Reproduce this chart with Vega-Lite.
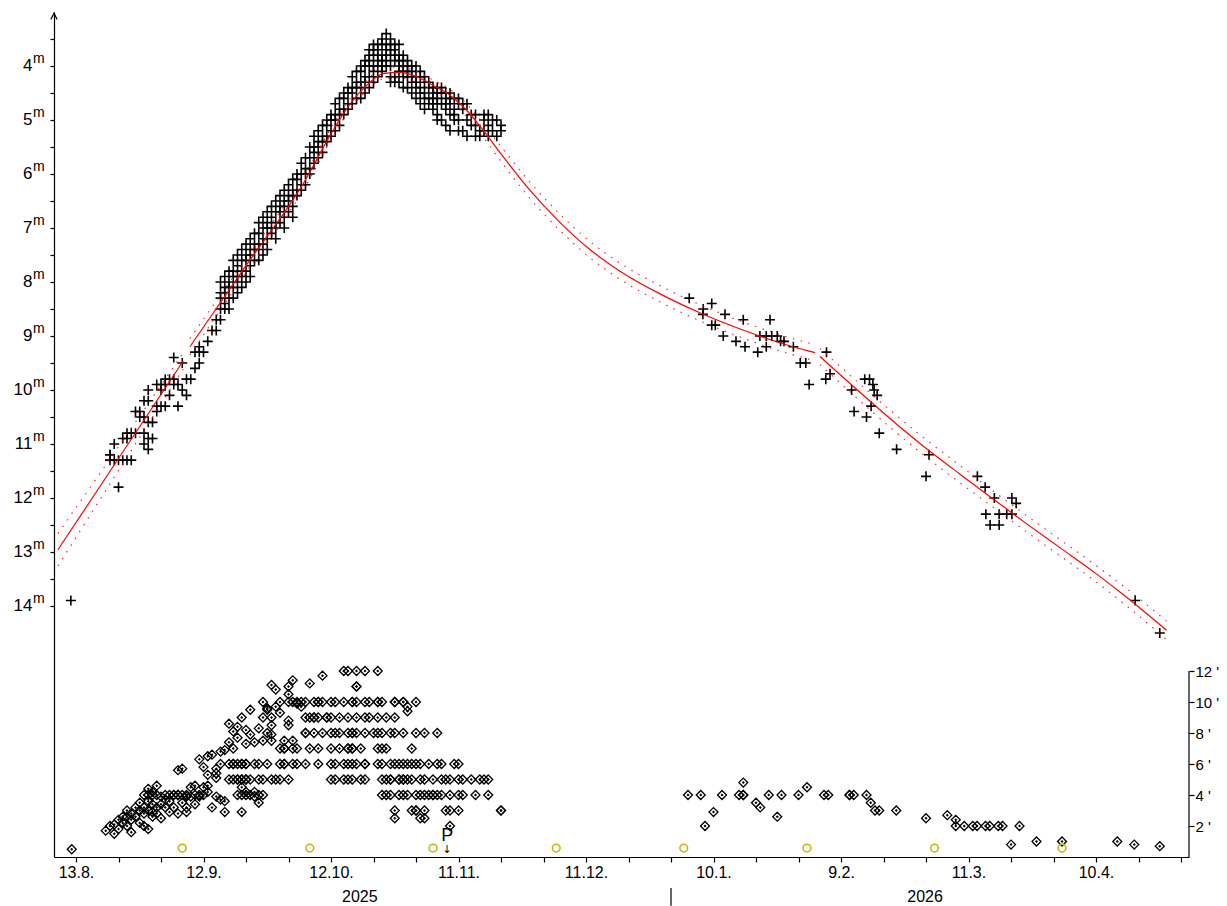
{
"$schema": "https://vega.github.io/schema/vega-lite/v6.json",
"width": 1135, "height": 845,
"autosize": {"type": "none"},
"padding": {"left": 54, "top": 12, "right": 38, "bottom": 49},
"background": "white",
"config": {"view": {"stroke": null}, "font": "Liberation Sans", "axis": {"grid": false, "domainColor": "#000", "tickColor": "#000", "labelColor": "#000"}},
"datasets": {
"mags": [
{"date":"2025-08-11T19:00:00Z","mag":13.9},
{"date":"2025-08-21","mag":11.2},{"date":"2025-08-21","mag":11.2},{"date":"2025-08-21","mag":11.3},
{"date":"2025-08-22","mag":11.3},{"date":"2025-08-22","mag":11.0},
{"date":"2025-08-23","mag":11.3},{"date":"2025-08-23","mag":11.8},
{"date":"2025-08-24","mag":10.9},{"date":"2025-08-24","mag":11.3},
{"date":"2025-08-25","mag":11.3},{"date":"2025-08-25","mag":10.9},{"date":"2025-08-25","mag":10.8},
{"date":"2025-08-26","mag":11.3},{"date":"2025-08-26","mag":10.8},
{"date":"2025-08-27","mag":10.4},{"date":"2025-08-27","mag":10.8},
{"date":"2025-08-28","mag":10.5},{"date":"2025-08-28","mag":10.4},
{"date":"2025-08-29","mag":10.8},{"date":"2025-08-29","mag":11.0},{"date":"2025-08-29","mag":10.5},{"date":"2025-08-29","mag":10.2},
{"date":"2025-08-30","mag":10.9},{"date":"2025-08-30","mag":11.1},{"date":"2025-08-30","mag":10.6},{"date":"2025-08-30","mag":10.2},{"date":"2025-08-30","mag":10.0},
{"date":"2025-08-31","mag":10.9},{"date":"2025-08-31","mag":10.6},
{"date":"2025-09-01","mag":9.9},{"date":"2025-09-01","mag":10.4},{"date":"2025-09-01","mag":10.3},
{"date":"2025-09-02","mag":10.3},{"date":"2025-09-02","mag":9.9},{"date":"2025-09-02","mag":10.0},
{"date":"2025-09-03","mag":9.9},{"date":"2025-09-03","mag":9.8},{"date":"2025-09-03","mag":10.3},
{"date":"2025-09-04","mag":9.8},{"date":"2025-09-04","mag":10.1},
{"date":"2025-09-05","mag":9.4},{"date":"2025-09-05","mag":9.8},{"date":"2025-09-05","mag":9.9},
{"date":"2025-09-06","mag":9.9},{"date":"2025-09-06","mag":10.3},
{"date":"2025-09-07","mag":10.0},{"date":"2025-09-07","mag":9.5},
{"date":"2025-09-08","mag":10.1},{"date":"2025-09-08","mag":9.8},
{"date":"2025-09-09","mag":9.8},
{"date":"2025-09-10","mag":9.3},{"date":"2025-09-10","mag":9.6},
{"date":"2025-09-11","mag":9.2},{"date":"2025-09-11","mag":9.5},{"date":"2025-09-11","mag":9.3},
{"date":"2025-09-12","mag":9.3},
{"date":"2025-09-13","mag":9.1},
{"date":"2025-09-14","mag":8.9},
{"date":"2025-09-15","mag":8.9},{"date":"2025-09-15","mag":8.7},
{"date":"2025-09-16","mag":8.0},{"date":"2025-09-16","mag":8.2},{"date":"2025-09-16","mag":8.3},{"date":"2025-09-16","mag":8.5},{"date":"2025-09-16","mag":8.7},
{"date":"2025-09-17","mag":7.9},{"date":"2025-09-17","mag":8.1},{"date":"2025-09-17","mag":8.2},{"date":"2025-09-17","mag":8.4},{"date":"2025-09-17","mag":8.5},
{"date":"2025-09-18","mag":7.8},{"date":"2025-09-18","mag":8.0},{"date":"2025-09-18","mag":8.1},{"date":"2025-09-18","mag":8.3},{"date":"2025-09-18","mag":8.5},
{"date":"2025-09-19","mag":7.6},{"date":"2025-09-19","mag":7.8},{"date":"2025-09-19","mag":7.9},{"date":"2025-09-19","mag":8.1},{"date":"2025-09-19","mag":8.3},
{"date":"2025-09-20","mag":7.5},{"date":"2025-09-20","mag":7.7},{"date":"2025-09-20","mag":7.9},{"date":"2025-09-20","mag":8.0},{"date":"2025-09-20","mag":8.2},
{"date":"2025-09-21","mag":7.4},{"date":"2025-09-21","mag":7.6},{"date":"2025-09-21","mag":7.8},{"date":"2025-09-21","mag":7.9},{"date":"2025-09-21","mag":8.1},
{"date":"2025-09-22","mag":7.3},{"date":"2025-09-22","mag":7.5},{"date":"2025-09-22","mag":7.6},{"date":"2025-09-22","mag":7.8},{"date":"2025-09-22","mag":8.0},
{"date":"2025-09-23","mag":7.2},{"date":"2025-09-23","mag":7.4},{"date":"2025-09-23","mag":7.5},{"date":"2025-09-23","mag":7.7},{"date":"2025-09-23","mag":7.9},
{"date":"2025-09-24","mag":7.1},{"date":"2025-09-24","mag":7.3},{"date":"2025-09-24","mag":7.4},{"date":"2025-09-24","mag":7.6},
{"date":"2025-09-25","mag":6.9},{"date":"2025-09-25","mag":7.1},{"date":"2025-09-25","mag":7.3},{"date":"2025-09-25","mag":7.4},{"date":"2025-09-25","mag":7.6},
{"date":"2025-09-26","mag":6.8},{"date":"2025-09-26","mag":7.0},{"date":"2025-09-26","mag":7.2},{"date":"2025-09-26","mag":7.3},{"date":"2025-09-26","mag":7.5},
{"date":"2025-09-27","mag":6.7},{"date":"2025-09-27","mag":6.9},{"date":"2025-09-27","mag":7.0},{"date":"2025-09-27","mag":7.2},{"date":"2025-09-27","mag":7.4},
{"date":"2025-09-28","mag":6.6},{"date":"2025-09-28","mag":6.8},{"date":"2025-09-28","mag":7.0},{"date":"2025-09-28","mag":7.1},
{"date":"2025-09-29","mag":6.5},{"date":"2025-09-29","mag":6.7},{"date":"2025-09-29","mag":6.9},{"date":"2025-09-29","mag":7.0},{"date":"2025-09-29","mag":7.2},
{"date":"2025-09-30","mag":6.4},{"date":"2025-09-30","mag":6.6},{"date":"2025-09-30","mag":6.7},{"date":"2025-09-30","mag":6.9},
{"date":"2025-10-01","mag":6.3},{"date":"2025-10-01","mag":6.5},{"date":"2025-10-01","mag":6.6},{"date":"2025-10-01","mag":6.8},{"date":"2025-10-01","mag":7.0},
{"date":"2025-10-02","mag":6.2},{"date":"2025-10-02","mag":6.4},{"date":"2025-10-02","mag":6.5},{"date":"2025-10-02","mag":6.7},
{"date":"2025-10-03","mag":6.1},{"date":"2025-10-03","mag":6.3},{"date":"2025-10-03","mag":6.4},{"date":"2025-10-03","mag":6.6},{"date":"2025-10-03","mag":6.8},
{"date":"2025-10-04","mag":6.0},{"date":"2025-10-04","mag":6.1},{"date":"2025-10-04","mag":6.3},{"date":"2025-10-04","mag":6.4},
{"date":"2025-10-05","mag":5.8},{"date":"2025-10-05","mag":6.0},{"date":"2025-10-05","mag":6.2},{"date":"2025-10-05","mag":6.3},
{"date":"2025-10-06","mag":5.7},{"date":"2025-10-06","mag":5.9},{"date":"2025-10-06","mag":6.0},{"date":"2025-10-06","mag":6.2},
{"date":"2025-10-07","mag":5.5},{"date":"2025-10-07","mag":5.7},{"date":"2025-10-07","mag":5.9},{"date":"2025-10-07","mag":6.0},
{"date":"2025-10-08","mag":5.3},{"date":"2025-10-08","mag":5.5},{"date":"2025-10-08","mag":5.6},{"date":"2025-10-08","mag":5.8},
{"date":"2025-10-09","mag":5.2},{"date":"2025-10-09","mag":5.4},{"date":"2025-10-09","mag":5.5},{"date":"2025-10-09","mag":5.7},
{"date":"2025-10-10","mag":5.1},{"date":"2025-10-10","mag":5.3},{"date":"2025-10-10","mag":5.4},{"date":"2025-10-10","mag":5.6},
{"date":"2025-10-11","mag":5.0},{"date":"2025-10-11","mag":5.1},{"date":"2025-10-11","mag":5.3},{"date":"2025-10-11","mag":5.4},
{"date":"2025-10-12","mag":4.9},{"date":"2025-10-12","mag":5.0},{"date":"2025-10-12","mag":5.2},{"date":"2025-10-12","mag":5.3},
{"date":"2025-10-13","mag":4.7},{"date":"2025-10-13","mag":4.9},{"date":"2025-10-13","mag":5.0},{"date":"2025-10-13","mag":5.2},
{"date":"2025-10-14","mag":4.6},{"date":"2025-10-14","mag":4.8},{"date":"2025-10-14","mag":4.9},{"date":"2025-10-14","mag":5.1},
{"date":"2025-10-15","mag":4.5},{"date":"2025-10-15","mag":4.6},{"date":"2025-10-15","mag":4.8},{"date":"2025-10-15","mag":4.9},
{"date":"2025-10-16","mag":4.4},{"date":"2025-10-16","mag":4.5},{"date":"2025-10-16","mag":4.7},{"date":"2025-10-16","mag":4.8},
{"date":"2025-10-17","mag":4.2},{"date":"2025-10-17","mag":4.4},{"date":"2025-10-17","mag":4.5},{"date":"2025-10-17","mag":4.7},
{"date":"2025-10-18","mag":4.1},{"date":"2025-10-18","mag":4.3},{"date":"2025-10-18","mag":4.4},{"date":"2025-10-18","mag":4.6},
{"date":"2025-10-19","mag":4.0},{"date":"2025-10-19","mag":4.1},{"date":"2025-10-19","mag":4.3},{"date":"2025-10-19","mag":4.4},{"date":"2025-10-19","mag":4.6},
{"date":"2025-10-20","mag":3.9},{"date":"2025-10-20","mag":4.0},{"date":"2025-10-20","mag":4.2},{"date":"2025-10-20","mag":4.3},{"date":"2025-10-20","mag":4.5},
{"date":"2025-10-21","mag":3.7},{"date":"2025-10-21","mag":3.8},{"date":"2025-10-21","mag":3.9},{"date":"2025-10-21","mag":4.0},{"date":"2025-10-21","mag":4.2},{"date":"2025-10-21","mag":4.4},
{"date":"2025-10-22","mag":3.6},{"date":"2025-10-22","mag":3.7},{"date":"2025-10-22","mag":3.8},{"date":"2025-10-22","mag":4.0},{"date":"2025-10-22","mag":4.1},{"date":"2025-10-22","mag":4.3},
{"date":"2025-10-23","mag":3.6},{"date":"2025-10-23","mag":3.7},{"date":"2025-10-23","mag":3.8},{"date":"2025-10-23","mag":3.9},{"date":"2025-10-23","mag":4.0},{"date":"2025-10-23","mag":4.2},
{"date":"2025-10-24","mag":3.5},{"date":"2025-10-24","mag":3.6},{"date":"2025-10-24","mag":3.8},{"date":"2025-10-24","mag":3.9},{"date":"2025-10-24","mag":4.0},{"date":"2025-10-24","mag":4.1},
{"date":"2025-10-25","mag":3.4},{"date":"2025-10-25","mag":3.6},{"date":"2025-10-25","mag":3.7},{"date":"2025-10-25","mag":3.8},{"date":"2025-10-25","mag":3.9},{"date":"2025-10-25","mag":4.0},
{"date":"2025-10-26","mag":3.5},{"date":"2025-10-26","mag":3.6},{"date":"2025-10-26","mag":3.7},{"date":"2025-10-26","mag":3.8},{"date":"2025-10-26","mag":4.0},{"date":"2025-10-26","mag":4.2},{"date":"2025-10-26","mag":4.3},
{"date":"2025-10-27","mag":3.6},{"date":"2025-10-27","mag":3.7},{"date":"2025-10-27","mag":3.8},{"date":"2025-10-27","mag":3.9},{"date":"2025-10-27","mag":4.2},{"date":"2025-10-27","mag":4.3},
{"date":"2025-10-28","mag":3.6},{"date":"2025-10-28","mag":3.8},{"date":"2025-10-28","mag":3.9},{"date":"2025-10-28","mag":4.0},{"date":"2025-10-28","mag":4.1},{"date":"2025-10-28","mag":4.3},
{"date":"2025-10-29","mag":3.8},{"date":"2025-10-29","mag":3.9},{"date":"2025-10-29","mag":4.0},{"date":"2025-10-29","mag":4.1},{"date":"2025-10-29","mag":4.2},{"date":"2025-10-29","mag":4.4},
{"date":"2025-10-30","mag":3.9},{"date":"2025-10-30","mag":4.0},{"date":"2025-10-30","mag":4.1},{"date":"2025-10-30","mag":4.2},{"date":"2025-10-30","mag":4.4},
{"date":"2025-10-31","mag":4.0},{"date":"2025-10-31","mag":4.1},{"date":"2025-10-31","mag":4.2},{"date":"2025-10-31","mag":4.3},{"date":"2025-10-31","mag":4.5},
{"date":"2025-11-01","mag":4.0},{"date":"2025-11-01","mag":4.2},{"date":"2025-11-01","mag":4.3},{"date":"2025-11-01","mag":4.4},{"date":"2025-11-01","mag":4.6},
{"date":"2025-11-02","mag":4.1},{"date":"2025-11-02","mag":4.2},{"date":"2025-11-02","mag":4.4},{"date":"2025-11-02","mag":4.5},{"date":"2025-11-02","mag":4.7},
{"date":"2025-11-03","mag":4.2},{"date":"2025-11-03","mag":4.3},{"date":"2025-11-03","mag":4.5},{"date":"2025-11-03","mag":4.6},{"date":"2025-11-03","mag":4.8},
{"date":"2025-11-04","mag":4.3},{"date":"2025-11-04","mag":4.4},{"date":"2025-11-04","mag":4.6},{"date":"2025-11-04","mag":4.7},
{"date":"2025-11-05","mag":4.4},{"date":"2025-11-05","mag":4.5},{"date":"2025-11-05","mag":4.6},{"date":"2025-11-05","mag":4.7},{"date":"2025-11-05","mag":4.8},
{"date":"2025-11-06","mag":4.4},{"date":"2025-11-06","mag":4.5},{"date":"2025-11-06","mag":4.6},{"date":"2025-11-06","mag":4.7},{"date":"2025-11-06","mag":4.9},{"date":"2025-11-06","mag":5.0},
{"date":"2025-11-07","mag":4.4},{"date":"2025-11-07","mag":4.5},{"date":"2025-11-07","mag":4.7},{"date":"2025-11-07","mag":5.0},
{"date":"2025-11-08","mag":4.5},{"date":"2025-11-08","mag":4.6},{"date":"2025-11-08","mag":4.7},{"date":"2025-11-08","mag":4.8},{"date":"2025-11-08","mag":5.1},
{"date":"2025-11-09","mag":4.5},{"date":"2025-11-09","mag":4.6},{"date":"2025-11-09","mag":4.7},{"date":"2025-11-09","mag":4.9},{"date":"2025-11-09","mag":5.2},
{"date":"2025-11-10","mag":4.6},{"date":"2025-11-10","mag":4.8},{"date":"2025-11-10","mag":4.9},{"date":"2025-11-10","mag":5.0},
{"date":"2025-11-11","mag":4.6},{"date":"2025-11-11","mag":4.7},{"date":"2025-11-11","mag":5.0},{"date":"2025-11-11","mag":5.2},
{"date":"2025-11-12","mag":4.7},{"date":"2025-11-12","mag":4.8},{"date":"2025-11-12","mag":5.2},
{"date":"2025-11-13","mag":4.7},{"date":"2025-11-13","mag":5.0},{"date":"2025-11-13","mag":5.3},
{"date":"2025-11-14","mag":4.9},{"date":"2025-11-14","mag":5.1},
{"date":"2025-11-15","mag":4.9},{"date":"2025-11-15","mag":5.1},{"date":"2025-11-15","mag":5.3},
{"date":"2025-11-16","mag":5.2},{"date":"2025-11-16","mag":5.3},
{"date":"2025-11-17","mag":4.9},{"date":"2025-11-17","mag":5.0},{"date":"2025-11-17","mag":5.2},
{"date":"2025-11-18","mag":4.9},{"date":"2025-11-18","mag":5.1},{"date":"2025-11-18","mag":5.3},
{"date":"2025-11-19","mag":5.0},{"date":"2025-11-19","mag":5.2},
{"date":"2025-11-20","mag":5.0},{"date":"2025-11-20","mag":5.3},
{"date":"2025-11-21","mag":5.1},{"date":"2025-11-21","mag":5.2},
{"date":"2026-01-04T07:00:00Z","mag":8.3},
{"date":"2026-01-07T14:00:00Z","mag":8.5},{"date":"2026-01-09T14:00:00Z","mag":8.4},{"date":"2026-01-07T12:00:00Z","mag":8.6},
{"date":"2026-01-09T14:00:00Z","mag":8.8},{"date":"2026-01-10T10:00:00Z","mag":8.8},{"date":"2026-01-12T17:00:00Z","mag":8.6},
{"date":"2026-01-12T07:00:00Z","mag":9.0},{"date":"2026-01-15T07:00:00Z","mag":9.1},{"date":"2026-01-17T00:00:00Z","mag":8.7},
{"date":"2026-01-17T10:00:00Z","mag":9.2},{"date":"2026-01-20T10:00:00Z","mag":9.3},{"date":"2026-01-20T22:00:00Z","mag":9.0},
{"date":"2026-01-22T10:00:00Z","mag":9.0},{"date":"2026-01-23T17:00:00Z","mag":9.0},{"date":"2026-01-25T00:00:00Z","mag":9.0},
{"date":"2026-01-23T07:00:00Z","mag":8.7},{"date":"2026-01-22T10:00:00Z","mag":9.2},{"date":"2026-01-25T19:00:00Z","mag":9.1},
{"date":"2026-01-26T14:00:00Z","mag":9.1},{"date":"2026-01-28T19:00:00Z","mag":9.2},{"date":"2026-01-30T10:00:00Z","mag":9.5},
{"date":"2026-01-31T17:00:00Z","mag":9.5},{"date":"2026-02-01T12:00:00Z","mag":9.9},{"date":"2026-02-05T14:00:00Z","mag":9.3},
{"date":"2026-02-06T10:00:00Z","mag":9.7},{"date":"2026-02-05T10:00:00Z","mag":9.8},{"date":"2026-02-14T14:00:00Z","mag":9.8},
{"date":"2026-02-15T17:00:00Z","mag":9.8},{"date":"2026-02-16T12:00:00Z","mag":9.9},{"date":"2026-02-16T19:00:00Z","mag":10.0},
{"date":"2026-02-17T12:00:00Z","mag":10.1},{"date":"2026-02-11T12:00:00Z","mag":10.0},{"date":"2026-02-16T02:00:00Z","mag":10.3},
{"date":"2026-02-12T02:00:00Z","mag":10.4},{"date":"2026-02-15T00:00:00Z","mag":10.5},{"date":"2026-02-18T00:00:00Z","mag":10.8},
{"date":"2026-02-22T02:00:00Z","mag":11.1},{"date":"2026-03-01T17:00:00Z","mag":11.2},{"date":"2026-03-01T00:00:00Z","mag":11.6},
{"date":"2026-03-13T02:00:00Z","mag":11.6},{"date":"2026-03-14T22:00:00Z","mag":11.8},{"date":"2026-03-17T02:00:00Z","mag":12.0},
{"date":"2026-03-21T05:00:00Z","mag":12.0},{"date":"2026-03-22T05:00:00Z","mag":12.1},{"date":"2026-03-15T02:00:00Z","mag":12.3},
{"date":"2026-03-18T05:00:00Z","mag":12.3},{"date":"2026-03-20T00:00:00Z","mag":12.3},{"date":"2026-03-21T05:00:00Z","mag":12.3},
{"date":"2026-03-16T02:00:00Z","mag":12.5},{"date":"2026-03-18T05:00:00Z","mag":12.5},
{"date":"2026-04-19T05:00:00Z","mag":13.9},{"date":"2026-04-25T00:00:00Z","mag":14.5}
],
"curve": [
{"date":"2025-08-08T18:00:00Z","seg":1,"mag":12.96,"lo":12.66,"hi":13.26},
{"date":"2025-08-23T00:00:00Z","seg":1,"mag":11.27,"lo":11.05,"hi":11.49},
{"date":"2025-09-07T06:00:00Z","seg":1,"mag":9.46,"lo":9.31,"hi":9.61},
{"date":"2025-09-08T19:00:00Z","seg":2,"mag":9.20,"lo":9.05,"hi":9.35},
{"date":"2025-09-21T19:00:00Z","seg":2,"mag":7.72,"lo":7.59,"hi":7.85},
{"date":"2025-10-05T22:00:00Z","seg":2,"mag":6.12,"lo":6.00,"hi":6.24},
{"date":"2025-10-12T12:00:00Z","seg":2,"mag":5.19,"lo":5.08,"hi":5.30},
{"date":"2025-10-16T12:00:00Z","seg":2,"mag":4.70,"lo":4.60,"hi":4.80},
{"date":"2025-10-20T10:00:00Z","seg":2,"mag":4.36,"lo":4.26,"hi":4.46},
{"date":"2025-10-24T07:00:00Z","seg":2,"mag":4.14,"lo":4.04,"hi":4.24},
{"date":"2025-10-28T05:00:00Z","seg":2,"mag":4.12,"lo":4.02,"hi":4.22},
{"date":"2025-11-01T05:00:00Z","seg":2,"mag":4.20,"lo":4.10,"hi":4.30},
{"date":"2025-11-05T02:00:00Z","seg":2,"mag":4.36,"lo":4.26,"hi":4.46},
{"date":"2025-11-09T00:00:00Z","seg":2,"mag":4.54,"lo":4.43,"hi":4.65},
{"date":"2025-11-12T22:00:00Z","seg":2,"mag":4.82,"lo":4.70,"hi":4.94},
{"date":"2025-11-16T19:00:00Z","seg":2,"mag":5.19,"lo":5.06,"hi":5.32},
{"date":"2025-11-21T12:00:00Z","seg":2,"mag":5.68,"lo":5.54,"hi":5.82},
{"date":"2025-11-27T19:00:00Z","seg":2,"mag":6.30,"lo":6.15,"hi":6.45},
{"date":"2025-12-04T22:00:00Z","seg":2,"mag":6.90,"lo":6.75,"hi":7.05},
{"date":"2025-12-11T22:00:00Z","seg":2,"mag":7.40,"lo":7.25,"hi":7.55},
{"date":"2025-12-19T00:00:00Z","seg":2,"mag":7.80,"lo":7.65,"hi":7.95},
{"date":"2025-12-28T10:00:00Z","seg":2,"mag":8.22,"lo":8.07,"hi":8.37},
{"date":"2026-01-06T19:00:00Z","seg":2,"mag":8.57,"lo":8.42,"hi":8.72},
{"date":"2026-01-16T22:00:00Z","seg":2,"mag":8.89,"lo":8.74,"hi":9.04},
{"date":"2026-01-28T17:00:00Z","seg":2,"mag":9.20,"lo":9.05,"hi":9.35},
{"date":"2026-02-02T22:00:00Z","seg":2,"mag":9.31,"lo":9.16,"hi":9.46},
{"date":"2026-02-04T01:00:00Z","seg":3,"mag":9.38,"lo":9.23,"hi":9.53},
{"date":"2026-02-27T14:00:00Z","seg":3,"mag":10.99,"lo":10.83,"hi":11.15},
{"date":"2026-03-09T00:00:00Z","seg":3,"mag":11.56,"lo":11.40,"hi":11.72},
{"date":"2026-03-16T19:00:00Z","seg":3,"mag":12.02,"lo":11.87,"hi":12.17},
{"date":"2026-03-24T17:00:00Z","seg":3,"mag":12.48,"lo":12.33,"hi":12.63},
{"date":"2026-04-01T12:00:00Z","seg":3,"mag":12.92,"lo":12.77,"hi":13.07},
{"date":"2026-04-09T07:00:00Z","seg":3,"mag":13.36,"lo":13.21,"hi":13.51},
{"date":"2026-04-17T05:00:00Z","seg":3,"mag":13.84,"lo":13.68,"hi":14.00},
{"date":"2026-04-26T14:00:00Z","seg":3,"mag":14.45,"lo":14.28,"hi":14.62}
],
"coma": [
{"date":"2025-08-12","c":0.5},
{"date":"2025-08-20","c":1.7},{"date":"2025-08-21","c":2.0},
{"date":"2025-08-22","c":1.5},{"date":"2025-08-22","c":2.1},
{"date":"2025-08-23","c":2.4},{"date":"2025-08-23","c":1.8},
{"date":"2025-08-24","c":2.6},{"date":"2025-08-24","c":2.2},
{"date":"2025-08-25","c":2.6},{"date":"2025-08-25","c":2.0},{"date":"2025-08-25","c":3.0},
{"date":"2025-08-26","c":2.8},{"date":"2025-08-26","c":1.6},{"date":"2025-08-26","c":2.4},
{"date":"2025-08-27","c":2.6},{"date":"2025-08-27","c":3.2},
{"date":"2025-08-28","c":3.0},{"date":"2025-08-28","c":2.2},{"date":"2025-08-28","c":3.5},
{"date":"2025-08-29","c":3.2},{"date":"2025-08-29","c":2.0},{"date":"2025-08-29","c":2.8},{"date":"2025-08-29","c":4.0},
{"date":"2025-08-30","c":4.4},{"date":"2025-08-30","c":3.6},{"date":"2025-08-30","c":1.8},{"date":"2025-08-30","c":3.0},{"date":"2025-08-30","c":4.0},
{"date":"2025-08-31","c":2.6},{"date":"2025-08-31","c":2.9},{"date":"2025-08-31","c":4.2},{"date":"2025-08-31","c":3.4},{"date":"2025-08-31","c":4.0},
{"date":"2025-09-01","c":4.6},{"date":"2025-09-01","c":3.2},{"date":"2025-09-01","c":2.8},{"date":"2025-09-01","c":4.0},
{"date":"2025-09-02","c":3.9},{"date":"2025-09-02","c":3.4},{"date":"2025-09-02","c":2.5},
{"date":"2025-09-03","c":3.7},{"date":"2025-09-03","c":3.2},{"date":"2025-09-03","c":4.0},
{"date":"2025-09-04","c":2.9},{"date":"2025-09-04","c":3.6},{"date":"2025-09-04","c":4.0},
{"date":"2025-09-05","c":4.0},{"date":"2025-09-05","c":4.0},{"date":"2025-09-05","c":3.2},
{"date":"2025-09-06","c":4.0},{"date":"2025-09-06","c":4.0},{"date":"2025-09-06","c":2.8},{"date":"2025-09-06","c":5.6},{"date":"2025-09-06","c":4.0},
{"date":"2025-09-07","c":5.7},{"date":"2025-09-07","c":3.5},{"date":"2025-09-07","c":4.0},
{"date":"2025-09-08","c":2.9},{"date":"2025-09-08","c":3.2},{"date":"2025-09-08","c":3.9},{"date":"2025-09-08","c":4.0},
{"date":"2025-09-09","c":4.5},{"date":"2025-09-09","c":3.9},
{"date":"2025-09-10","c":4.6},{"date":"2025-09-10","c":3.4},{"date":"2025-09-10","c":4.0},
{"date":"2025-09-11","c":6.3},{"date":"2025-09-11","c":3.9},{"date":"2025-09-11","c":4.0},
{"date":"2025-09-12","c":5.8},{"date":"2025-09-12","c":4.5},{"date":"2025-09-12","c":4.0},
{"date":"2025-09-13","c":6.5},{"date":"2025-09-13","c":5.3},{"date":"2025-09-13","c":4.2},{"date":"2025-09-13","c":4.6},
{"date":"2025-09-14","c":6.6},{"date":"2025-09-14","c":3.2},
{"date":"2025-09-15","c":5.4},{"date":"2025-09-15","c":5.1},{"date":"2025-09-15","c":3.9},{"date":"2025-09-15","c":5.7},
{"date":"2025-09-16","c":3.7},{"date":"2025-09-16","c":6.0},{"date":"2025-09-16","c":6.8},
{"date":"2025-09-17","c":2.9},{"date":"2025-09-17","c":3.6},{"date":"2025-09-17","c":6.9},
{"date":"2025-09-18","c":8.6},{"date":"2025-09-18","c":7.4},{"date":"2025-09-18","c":6.0},{"date":"2025-09-18","c":5.0},
{"date":"2025-09-19","c":8.1},{"date":"2025-09-19","c":7.0},{"date":"2025-09-19","c":6.0},{"date":"2025-09-19","c":6.0},{"date":"2025-09-19","c":5.0},
{"date":"2025-09-20","c":7.7},{"date":"2025-09-20","c":8.4},{"date":"2025-09-20","c":6.0},{"date":"2025-09-20","c":5.0},{"date":"2025-09-20","c":5.0},{"date":"2025-09-20","c":4.0},
{"date":"2025-09-21","c":9.0},{"date":"2025-09-21","c":4.5},{"date":"2025-09-21","c":2.9},{"date":"2025-09-21","c":6.0},{"date":"2025-09-21","c":6.0},{"date":"2025-09-21","c":5.0},{"date":"2025-09-21","c":5.0},{"date":"2025-09-21","c":4.0},
{"date":"2025-09-22","c":8.2},{"date":"2025-09-22","c":4.2},{"date":"2025-09-22","c":7.3},{"date":"2025-09-22","c":6.0},{"date":"2025-09-22","c":6.0},{"date":"2025-09-22","c":5.0},{"date":"2025-09-22","c":5.0},{"date":"2025-09-22","c":4.0},
{"date":"2025-09-23","c":9.5},{"date":"2025-09-23","c":7.9},{"date":"2025-09-23","c":5.0},{"date":"2025-09-23","c":4.0},
{"date":"2025-09-24","c":7.4},{"date":"2025-09-24","c":3.9},{"date":"2025-09-24","c":4.2},{"date":"2025-09-24","c":6.0},
{"date":"2025-09-25","c":3.5},{"date":"2025-09-25","c":8.3},{"date":"2025-09-25","c":6.0},{"date":"2025-09-25","c":5.0},{"date":"2025-09-25","c":4.0},
{"date":"2025-09-26","c":9.0},{"date":"2025-09-26","c":7.5},{"date":"2025-09-26","c":10.0},{"date":"2025-09-26","c":5.0},{"date":"2025-09-26","c":4.0},
{"date":"2025-09-27","c":9.6},{"date":"2025-09-27","c":8.0},{"date":"2025-09-27","c":9.5},{"date":"2025-09-27","c":6.0},
{"date":"2025-09-28","c":9.0},{"date":"2025-09-28","c":8.5},{"date":"2025-09-28","c":7.9},{"date":"2025-09-28","c":11.1},{"date":"2025-09-28","c":7.5},{"date":"2025-09-28","c":5.0},
{"date":"2025-09-29","c":9.7},{"date":"2025-09-29","c":10.8},{"date":"2025-09-29","c":5.0},
{"date":"2025-09-30","c":9.3},{"date":"2025-09-30","c":10.0},{"date":"2025-09-30","c":7.0},{"date":"2025-09-30","c":6.0},{"date":"2025-09-30","c":5.0},
{"date":"2025-10-01","c":7.0},{"date":"2025-10-01","c":7.0},{"date":"2025-10-01","c":7.5},{"date":"2025-10-01","c":6.0},{"date":"2025-10-01","c":6.0},
{"date":"2025-10-02","c":8.5},{"date":"2025-10-02","c":8.8},{"date":"2025-10-02","c":11.0},{"date":"2025-10-02","c":10.5},{"date":"2025-10-02","c":10.0},{"date":"2025-10-02","c":5.0},
{"date":"2025-10-03","c":11.4},{"date":"2025-10-03","c":10.0},{"date":"2025-10-03","c":7.0},{"date":"2025-10-03","c":7.5},{"date":"2025-10-03","c":6.0},
{"date":"2025-10-04","c":9.9},{"date":"2025-10-04","c":10.0},{"date":"2025-10-04","c":7.0},{"date":"2025-10-04","c":6.0},
{"date":"2025-10-05","c":9.7},{"date":"2025-10-05","c":10.0},
{"date":"2025-10-06","c":10.0},{"date":"2025-10-06","c":9.0},{"date":"2025-10-06","c":8.0},{"date":"2025-10-06","c":8.0},{"date":"2025-10-06","c":6.0},
{"date":"2025-10-07","c":11.2},{"date":"2025-10-07","c":9.0},{"date":"2025-10-07","c":7.0},
{"date":"2025-10-08","c":9.0},{"date":"2025-10-08","c":10.0},{"date":"2025-10-08","c":9.0},{"date":"2025-10-08","c":8.0},
{"date":"2025-10-09","c":10.0},{"date":"2025-10-09","c":10.0},{"date":"2025-10-09","c":9.0},{"date":"2025-10-09","c":7.0},{"date":"2025-10-09","c":6.0},
{"date":"2025-10-10","c":11.7},{"date":"2025-10-10","c":10.0},{"date":"2025-10-10","c":8.0},
{"date":"2025-10-11","c":9.0},{"date":"2025-10-11","c":9.0},
{"date":"2025-10-12","c":10.0},{"date":"2025-10-12","c":9.0},{"date":"2025-10-12","c":8.0},{"date":"2025-10-12","c":7.0},{"date":"2025-10-12","c":6.0},{"date":"2025-10-12","c":5.0},
{"date":"2025-10-13","c":10.0},{"date":"2025-10-13","c":8.0},{"date":"2025-10-13","c":6.0},{"date":"2025-10-13","c":5.0},
{"date":"2025-10-14","c":9.0},{"date":"2025-10-14","c":8.0},{"date":"2025-10-14","c":7.0},
{"date":"2025-10-15","c":12.0},{"date":"2025-10-15","c":10.0},{"date":"2025-10-15","c":6.0},{"date":"2025-10-15","c":5.0},
{"date":"2025-10-16","c":12.0},{"date":"2025-10-16","c":9.0},{"date":"2025-10-16","c":8.0},{"date":"2025-10-16","c":7.0},{"date":"2025-10-16","c":7.0},{"date":"2025-10-16","c":6.0},{"date":"2025-10-16","c":5.0},
{"date":"2025-10-17","c":10.0},{"date":"2025-10-17","c":10.0},{"date":"2025-10-17","c":8.0},{"date":"2025-10-17","c":8.0},{"date":"2025-10-17","c":7.0},{"date":"2025-10-17","c":7.0},{"date":"2025-10-17","c":6.0},{"date":"2025-10-17","c":5.0},
{"date":"2025-10-18","c":12.0},{"date":"2025-10-18","c":11.0},{"date":"2025-10-18","c":11.0},{"date":"2025-10-18","c":10.0},{"date":"2025-10-18","c":9.0},{"date":"2025-10-18","c":8.0},{"date":"2025-10-18","c":6.0},
{"date":"2025-10-19","c":7.0},{"date":"2025-10-19","c":5.0},
{"date":"2025-10-20","c":12.0},{"date":"2025-10-20","c":10.0},{"date":"2025-10-20","c":9.0},{"date":"2025-10-20","c":8.0},{"date":"2025-10-20","c":6.0},{"date":"2025-10-20","c":6.0},{"date":"2025-10-20","c":5.0},
{"date":"2025-10-21","c":10.0},{"date":"2025-10-21","c":9.0},
{"date":"2025-10-22","c":8.0},
{"date":"2025-10-23","c":12.0},{"date":"2025-10-23","c":10.0},{"date":"2025-10-23","c":10.0},{"date":"2025-10-23","c":9.0},{"date":"2025-10-23","c":8.0},{"date":"2025-10-23","c":7.0},{"date":"2025-10-23","c":6.0},
{"date":"2025-10-24","c":10.0},{"date":"2025-10-24","c":8.0},{"date":"2025-10-24","c":7.0},{"date":"2025-10-24","c":6.0},{"date":"2025-10-24","c":5.0},{"date":"2025-10-24","c":4.0},
{"date":"2025-10-25","c":9.0},{"date":"2025-10-25","c":7.0},{"date":"2025-10-25","c":5.0},{"date":"2025-10-25","c":4.0},
{"date":"2025-10-26","c":8.0},{"date":"2025-10-26","c":6.0},{"date":"2025-10-26","c":5.0},{"date":"2025-10-26","c":5.0},{"date":"2025-10-26","c":4.0},
{"date":"2025-10-27","c":10.0},{"date":"2025-10-27","c":10.0},{"date":"2025-10-27","c":9.0},{"date":"2025-10-27","c":8.0},{"date":"2025-10-27","c":6.0},{"date":"2025-10-27","c":3.0},{"date":"2025-10-27","c":2.5},
{"date":"2025-10-28","c":6.0},{"date":"2025-10-28","c":5.0},{"date":"2025-10-28","c":5.0},{"date":"2025-10-28","c":4.0},
{"date":"2025-10-29","c":10.0},{"date":"2025-10-29","c":10.0},{"date":"2025-10-29","c":8.0},{"date":"2025-10-29","c":6.0},{"date":"2025-10-29","c":5.0},{"date":"2025-10-29","c":5.0},{"date":"2025-10-29","c":4.0},
{"date":"2025-10-30","c":9.4},{"date":"2025-10-30","c":9.7},{"date":"2025-10-30","c":6.0},{"date":"2025-10-30","c":5.0},{"date":"2025-10-30","c":4.0},
{"date":"2025-10-31","c":7.0},{"date":"2025-10-31","c":6.0},{"date":"2025-10-31","c":5.0},{"date":"2025-10-31","c":3.0},
{"date":"2025-11-01","c":10.0},{"date":"2025-11-01","c":8.0},{"date":"2025-11-01","c":6.0},{"date":"2025-11-01","c":4.0},{"date":"2025-11-01","c":3.0},{"date":"2025-11-01","c":3.0},
{"date":"2025-11-02","c":6.0},{"date":"2025-11-02","c":5.0},{"date":"2025-11-02","c":4.0},{"date":"2025-11-02","c":2.5},
{"date":"2025-11-03","c":8.0},{"date":"2025-11-03","c":5.0},{"date":"2025-11-03","c":4.0},{"date":"2025-11-03","c":3.0},{"date":"2025-11-03","c":2.5},
{"date":"2025-11-04","c":6.0},{"date":"2025-11-04","c":4.0},
{"date":"2025-11-05","c":5.0},{"date":"2025-11-05","c":4.0},{"date":"2025-11-05","c":4.0},
{"date":"2025-11-06","c":8.0},{"date":"2025-11-06","c":6.0},{"date":"2025-11-06","c":4.0},
{"date":"2025-11-07","c":6.0},{"date":"2025-11-07","c":5.0},{"date":"2025-11-07","c":4.0},
{"date":"2025-11-08","c":5.0},{"date":"2025-11-08","c":3.0},
{"date":"2025-11-09","c":5.0},{"date":"2025-11-09","c":4.0},{"date":"2025-11-09","c":3.0},{"date":"2025-11-09","c":2.0},
{"date":"2025-11-10","c":6.0},
{"date":"2025-11-11","c":6.0},{"date":"2025-11-11","c":5.0},{"date":"2025-11-11","c":4.0},{"date":"2025-11-11","c":3.0},
{"date":"2025-11-12","c":5.0},{"date":"2025-11-12","c":4.0},
{"date":"2025-11-14","c":5.0},{"date":"2025-11-15","c":4.0},{"date":"2025-11-16","c":5.0},{"date":"2025-11-17","c":5.0},
{"date":"2025-11-18","c":5.0},{"date":"2025-11-18","c":4.0},
{"date":"2025-11-21","c":3.0},{"date":"2025-11-21","c":3.0},
{"date":"2026-01-04","c":4.0},{"date":"2026-01-08","c":2.0},{"date":"2026-01-10","c":2.9},{"date":"2026-01-07","c":4.0},
{"date":"2026-01-12","c":4.0},{"date":"2026-01-16","c":4.0},{"date":"2026-01-17","c":4.8},{"date":"2026-01-17","c":4.0},{"date":"2026-01-17","c":4.0},
{"date":"2026-01-20","c":3.5},{"date":"2026-01-21","c":3.2},{"date":"2026-01-23","c":4.0},{"date":"2026-01-25","c":2.6},{"date":"2026-01-26","c":4.0},
{"date":"2026-01-30","c":4.0},{"date":"2026-02-01","c":4.5},{"date":"2026-02-05","c":4.0},{"date":"2026-02-06","c":4.0},
{"date":"2026-02-11","c":4.0},{"date":"2026-02-11","c":4.0},{"date":"2026-02-12","c":4.0},{"date":"2026-02-15","c":4.0},
{"date":"2026-02-16","c":3.5},{"date":"2026-02-17","c":3.0},{"date":"2026-02-18","c":3.0},{"date":"2026-02-22","c":3.0},
{"date":"2026-03-01","c":2.5},{"date":"2026-03-06","c":2.7},{"date":"2026-03-08","c":2.4},{"date":"2026-03-08","c":2.0},
{"date":"2026-03-10","c":2.0},{"date":"2026-03-12","c":2.0},{"date":"2026-03-13","c":2.0},{"date":"2026-03-15","c":2.0},
{"date":"2026-03-16","c":2.0},{"date":"2026-03-18","c":2.0},{"date":"2026-03-19","c":2.0},{"date":"2026-03-23","c":2.0},
{"date":"2026-03-21","c":0.8},{"date":"2026-03-27","c":1.0},{"date":"2026-04-02","c":1.0},{"date":"2026-04-15","c":1.0},
{"date":"2026-04-19","c":0.8},{"date":"2026-04-25","c":0.7}
],
"moons": [
{"date":"2025-09-07"},{"date":"2025-10-07"},{"date":"2025-11-05"},{"date":"2025-12-04"},
{"date":"2026-01-03"},{"date":"2026-02-01"},{"date":"2026-03-03"},{"date":"2026-04-02"}
],
"units": [{"mag":4},{"mag":5},{"mag":6},{"mag":7},{"mag":8},{"mag":9},{"mag":10},{"mag":11},{"mag":12},{"mag":13},{"mag":14}],
"peri": [{"date":"2025-11-08T08:00:00Z","label":"P","arrow":"↓"}],
"years": [{"date":"2025-10-18T19:00:00Z","label":"2025"},{"date":"2026-02-28T19:00:00Z","label":"2026"}]
},
"layer": [
{
"layer": [
{
"data": {"name": "mags"},
"mark": {"type": "point", "shape": "M-1,0L1,0M0,-1L0,1", "filled": false, "stroke": "#000", "strokeWidth": 1.6, "size": 100, "opacity": 1},
"encoding": {
"x": {"field": "date", "type": "temporal", "title": null,
 "scale": {"type": "utc", "domain": [{"year":2025,"month":8,"date":7,"hours":19,"minutes":46,"utc":true},{"year":2026,"month":5,"date":1,"hours":21,"minutes":7,"utc":true}]},
 "axis": {"values": [
  {"year":2025,"month":8,"date":13,"utc":true},{"year":2025,"month":8,"date":23,"utc":true},{"year":2025,"month":9,"date":2,"utc":true},
  {"year":2025,"month":9,"date":12,"utc":true},{"year":2025,"month":9,"date":22,"utc":true},{"year":2025,"month":10,"date":2,"utc":true},
  {"year":2025,"month":10,"date":12,"utc":true},{"year":2025,"month":10,"date":22,"utc":true},{"year":2025,"month":11,"date":1,"utc":true},
  {"year":2025,"month":11,"date":11,"utc":true},{"year":2025,"month":11,"date":21,"utc":true},{"year":2025,"month":12,"date":1,"utc":true},
  {"year":2025,"month":12,"date":11,"utc":true},{"year":2025,"month":12,"date":21,"utc":true},{"year":2025,"month":12,"date":31,"utc":true},
  {"year":2026,"month":1,"date":10,"utc":true},{"year":2026,"month":1,"date":20,"utc":true},{"year":2026,"month":1,"date":30,"utc":true},
  {"year":2026,"month":2,"date":9,"utc":true},{"year":2026,"month":2,"date":19,"utc":true},{"year":2026,"month":3,"date":1,"utc":true},
  {"year":2026,"month":3,"date":11,"utc":true},{"year":2026,"month":3,"date":21,"utc":true},{"year":2026,"month":3,"date":31,"utc":true},
  {"year":2026,"month":4,"date":10,"utc":true},{"year":2026,"month":4,"date":20,"utc":true},{"year":2026,"month":4,"date":30,"utc":true}],
  "labelExpr": "indexof(['13.8.','12.9.','12.10.','11.11.','11.12.','10.1.','9.2.','11.3.','10.4.'], utcFormat(datum.value, '%-d.%-m.')) >= 0 ? utcFormat(datum.value, '%-d.%-m.') : ''",
  "tickSize": 5, "labelPadding": 2, "labelFontSize": 16, "labelFont": "Liberation Sans", "labelOverlap": false, "labelFlush": false, "labelBound": false, "domainWidth": 1.2, "tickWidth": 1.2}},
"y": {"field": "mag", "type": "quantitative", "title": null,
 "scale": {"domain": [3.0, 18.65], "reverse": true, "nice": false, "zero": false},
 "axis": {"orient": "left", "values": [3.5,4,4.5,5,5.5,6,6.5,7,7.5,8,8.5,9,9.5,10,10.5,11,11.5,12,12.5,13,13.5,14],
  "labelExpr": "datum.value % 1 == 0 ? '' + datum.value : ''", "tickSize": 4, "labelPadding": 18, "labelFontSize": 17, "labelFont": "Liberation Sans", "labelOverlap": false, "domainWidth": 1.2, "tickWidth": 1.2}}
}
},
{
"data": {"name": "units"},
"mark": {"type": "text", "text": "m", "fontSize": 14, "font": "Liberation Sans", "fill": "#000", "align": "left", "baseline": "middle", "dx": -21, "dy": -7},
"encoding": {
"x": {"datum": {"year":2025,"month":8,"date":7,"hours":19,"minutes":46,"utc":true}, "type": "temporal"},
"y": {"field": "mag", "type": "quantitative", "title": null, "scale": {"domain": [3.0, 18.65], "reverse": true, "nice": false, "zero": false}}
}
},
{
"data": {"name": "curve"},
"mark": {"type": "line", "color": "#ff0000", "strokeWidth": 1.2, "interpolate": "monotone"},
"encoding": {
"x": {"field": "date", "type": "temporal"},
"y": {"field": "mag", "type": "quantitative", "title": null, "scale": {"domain": [3.0, 18.65], "reverse": true, "nice": false, "zero": false}},
"detail": {"field": "seg"}
}
},
{
"data": {"name": "curve"},
"mark": {"type": "line", "color": "#ff0000", "strokeWidth": 1.2, "strokeDash": [1.5, 6.5], "opacity": 0.85, "interpolate": "monotone"},
"encoding": {
"x": {"field": "date", "type": "temporal"},
"y": {"field": "lo", "type": "quantitative", "title": null, "scale": {"domain": [3.0, 18.65], "reverse": true, "nice": false, "zero": false}},
"detail": {"field": "seg"}
}
},
{
"data": {"name": "curve"},
"mark": {"type": "line", "color": "#ff0000", "strokeWidth": 1.2, "strokeDash": [1.5, 6.5], "opacity": 0.85, "interpolate": "monotone"},
"encoding": {
"x": {"field": "date", "type": "temporal"},
"y": {"field": "hi", "type": "quantitative", "title": null, "scale": {"domain": [3.0, 18.65], "reverse": true, "nice": false, "zero": false}},
"detail": {"field": "seg"}
}
},
{
"data": {"values": [{}]},
"mark": {"type": "point", "shape": "M-1,1L0,-1L1,1", "filled": false, "stroke": "#000", "strokeWidth": 1.2, "size": 40, "opacity": 1},
"encoding": {
"x": {"datum": {"year":2025,"month":8,"date":7,"hours":19,"minutes":46,"utc":true}, "type": "temporal"},
"y": {"datum": 3.08, "type": "quantitative"}
}
}
]
},
{
"layer": [
{
"data": {"name": "coma"},
"mark": {"type": "point", "shape": "M-1,0L0,-1L1,0L0,1ZM-0.13,0L0,-0.13L0.13,0L0,0.13Z", "filled": false, "stroke": "#000", "strokeWidth": 1.3, "size": 80, "opacity": 1},
"encoding": {
"x": {"field": "date", "type": "temporal"},
"y": {"field": "c", "type": "quantitative", "title": null,
 "scale": {"domain": [0, 54.52], "nice": false, "zero": false},
 "axis": {"orient": "right", "values": [2,4,6,8,10,12], "labelExpr": "datum.value + \" '\"", "domain": false, "tickSize": 5, "labelPadding": 1, "labelFontSize": 15, "labelFont": "Liberation Sans", "tickWidth": 1.2}}
}
},
{
"data": {"name": "moons"},
"mark": {"type": "point", "shape": "circle", "filled": false, "stroke": "#bdb800", "strokeWidth": 1.5, "size": 60, "opacity": 1},
"encoding": {
"x": {"field": "date", "type": "temporal"},
"y": {"datum": 0.58, "type": "quantitative"}
}
},
{
"data": {"name": "peri"},
"mark": {"type": "text", "fontSize": 18, "font": "Liberation Sans", "color": "#000", "baseline": "middle", "align": "center"},
"encoding": {
"x": {"field": "date", "type": "temporal"},
"y": {"datum": 1.35, "type": "quantitative"},
"text": {"field": "label"}
}
},
{
"data": {"name": "peri"},
"mark": {"type": "text", "fontSize": 11, "font": "DejaVu Sans", "color": "#000", "baseline": "middle", "align": "center"},
"encoding": {
"x": {"field": "date", "type": "temporal"},
"y": {"datum": 0.42, "type": "quantitative"},
"text": {"field": "arrow"}
}
},
{
"data": {"values": [{}]},
"mark": {"type": "rule", "color": "#000", "strokeWidth": 1.2},
"encoding": {
"x": {"datum": {"year":2026,"month":5,"date":1,"hours":21,"minutes":7,"utc":true}, "type": "temporal"},
"y": {"datum": 0, "type": "quantitative"},
"y2": {"datum": 12}
}
},
{
"data": {"name": "years"},
"mark": {"type": "text", "fontSize": 16, "font": "Liberation Sans", "color": "#000", "baseline": "middle", "align": "center"},
"encoding": {
"x": {"field": "date", "type": "temporal"},
"y": {"datum": -2.6, "type": "quantitative"},
"text": {"field": "label"}
}
},
{
"data": {"values": [{}]},
"mark": {"type": "rule", "color": "#000", "strokeWidth": 1.2},
"encoding": {
"x": {"datum": {"year":2025,"month":12,"date":31,"utc":true}, "type": "temporal"},
"y": {"datum": -2.0, "type": "quantitative"},
"y2": {"datum": -3.15}
}
}
]
}
],
"resolve": {"scale": {"y": "independent"}, "axis": {"y": "independent"}}
}
